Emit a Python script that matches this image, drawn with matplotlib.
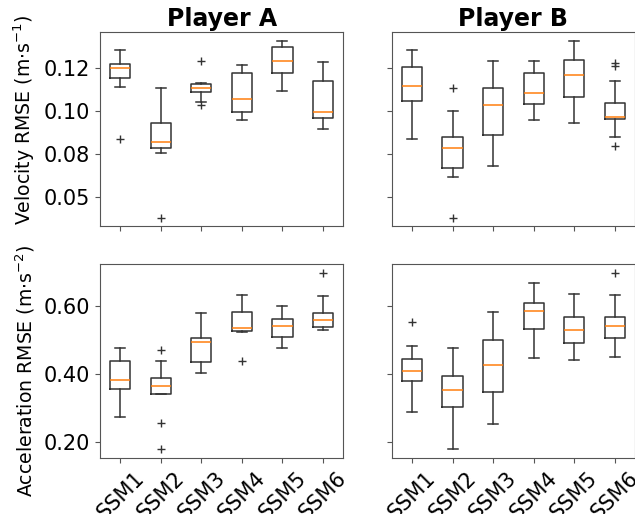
import matplotlib
matplotlib.use("Agg")
import matplotlib.pyplot as plt

models = ["SSM1", "SSM2", "SSM3", "SSM4", "SSM5", "SSM6"]

# box statistics: whislo, q1, med, q3, whishi, fliers
vel_a_whislo = [0.1111, 0.0806, 0.1041, 0.0958, 0.1094, 0.0916]
vel_a_q1 = [0.1152, 0.0830, 0.1086, 0.0997, 0.1177, 0.0966]
vel_a_med = [0.1197, 0.0856, 0.1106, 0.1056, 0.1231, 0.0995]
vel_a_q3 = [0.1219, 0.0942, 0.1125, 0.1178, 0.1297, 0.1139]
vel_a_whishi = [0.1281, 0.1105, 0.1128, 0.1214, 0.1325, 0.1227]
vel_a_fliers = [[0.087], [0.0503], [0.1230, 0.1028], [], [], []]

vel_b_whislo = [0.0870, 0.0691, 0.0742, 0.0958, 0.0942, 0.0877]
vel_b_q1 = [0.1047, 0.0737, 0.0888, 0.1033, 0.1063, 0.0961]
vel_b_med = [0.1117, 0.0830, 0.1027, 0.1084, 0.1167, 0.0973]
vel_b_q3 = [0.1202, 0.0877, 0.1106, 0.1175, 0.1236, 0.1039]
vel_b_whishi = [0.1281, 0.0998, 0.1230, 0.1234, 0.1325, 0.1141]
vel_b_fliers = [[], [0.1106, 0.0503], [], [], [], [0.1223, 0.1209, 0.0839]]

acc_a_whislo = [0.2745, 0.3420, 0.4029, 0.5235, 0.4775, 0.5304]
acc_a_q1 = [0.3578, 0.3431, 0.4363, 0.5255, 0.5098, 0.5382]
acc_a_med = [0.3824, 0.3647, 0.4951, 0.5353, 0.5412, 0.5588]
acc_a_q3 = [0.4392, 0.3892, 0.5069, 0.5833, 0.5627, 0.5794]
acc_a_whishi = [0.4755, 0.4373, 0.5794, 0.6324, 0.5990, 0.6294]
acc_a_fliers = [[], [0.4696, 0.2569, 0.1804], [], [0.4373], [], [0.6971]]

acc_b_whislo = [0.2882, 0.1804, 0.2549, 0.4471, 0.4412, 0.4510]
acc_b_q1 = [0.3804, 0.3039, 0.3471, 0.5324, 0.4902, 0.5049]
acc_b_med = [0.4098, 0.3539, 0.4255, 0.5843, 0.5304, 0.5422]
acc_b_q3 = [0.4441, 0.3941, 0.5010, 0.6098, 0.5667, 0.5676]
acc_b_whishi = [0.4824, 0.4765, 0.5833, 0.6676, 0.6353, 0.6324]
acc_b_fliers = [[0.5529], [], [], [], [], [0.6971]]

vel_ticks = [0.06, 0.08, 0.10, 0.12]
vel_ticklabels = ["0.05", "0.08", "0.10", "0.12"]
acc_ticks = [0.20, 0.40, 0.60]
acc_ticklabels = ["0.20", "0.40", "0.60"]


def make_stats(whislo, q1, med, q3, whishi, fliers):
    stats = []
    for i in range(len(med)):
        stats.append(dict(whislo=whislo[i], q1=q1[i], med=med[i], q3=q3[i],
                          whishi=whishi[i], fliers=fliers[i]))
    return stats


panels = [
    make_stats(vel_a_whislo, vel_a_q1, vel_a_med, vel_a_q3, vel_a_whishi, vel_a_fliers),
    make_stats(vel_b_whislo, vel_b_q1, vel_b_med, vel_b_q3, vel_b_whishi, vel_b_fliers),
    make_stats(acc_a_whislo, acc_a_q1, acc_a_med, acc_a_q3, acc_a_whishi, acc_a_fliers),
    make_stats(acc_b_whislo, acc_b_q1, acc_b_med, acc_b_q3, acc_b_whishi, acc_b_fliers),
]

fig = plt.figure(figsize=(6.35, 5.14), dpi=100)
lefts = [0.1575, 0.617]
bottoms = [0.560, 0.109]
w, h = 0.383, 0.378

line_col = "#333333"
axes = []
for r in range(2):
    for c in range(2):
        ax = fig.add_axes([lefts[c], bottoms[r], w, h])
        axes.append(ax)

for k, ax in enumerate(axes):
    ax.bxp(
        panels[k],
        positions=range(1, 7),
        widths=0.5,
        boxprops=dict(color=line_col, linewidth=1.1),
        whiskerprops=dict(color=line_col, linewidth=1.1),
        capprops=dict(color=line_col, linewidth=1.1),
        medianprops=dict(color="#ff7f0e", linewidth=1.1),
        flierprops=dict(marker="+", markeredgecolor=line_col, markersize=6),
    )
    for s in ax.spines.values():
        s.set_color("#555555")
    ax.tick_params(labelsize=15, color="#555555")
    ax.set_xlim(0.5, 6.5)

for ax in axes[:2]:
    ax.set_ylim(0.0465, 0.1367)
    ax.set_yticks(vel_ticks)
    ax.set_xticks(range(1, 7))
    ax.set_xticklabels([])
for ax in axes[2:]:
    ax.set_ylim(0.154, 0.7244)
    ax.set_yticks(acc_ticks)
    ax.set_xticks(range(1, 7))
    ax.set_xticklabels(models, rotation=45, fontsize=15)

axes[0].set_yticklabels(vel_ticklabels)
axes[2].set_yticklabels(acc_ticklabels)
axes[1].set_yticklabels([])
axes[3].set_yticklabels([])

axes[0].set_title("Player A", fontsize=17, fontweight="bold", pad=4)
axes[1].set_title("Player B", fontsize=17, fontweight="bold", pad=4)
axes[0].set_ylabel("Velocity RMSE (m$\\cdot$s$^{-1}$)", fontsize=13.6)
axes[2].set_ylabel("Acceleration RMSE (m$\\cdot$s$^{-2}$)", fontsize=13.6)
axes[0].yaxis.set_label_coords(-0.26, 0.546)
axes[2].yaxis.set_label_coords(-0.26, 0.448)

fig.savefig("out.png", dpi=100)
